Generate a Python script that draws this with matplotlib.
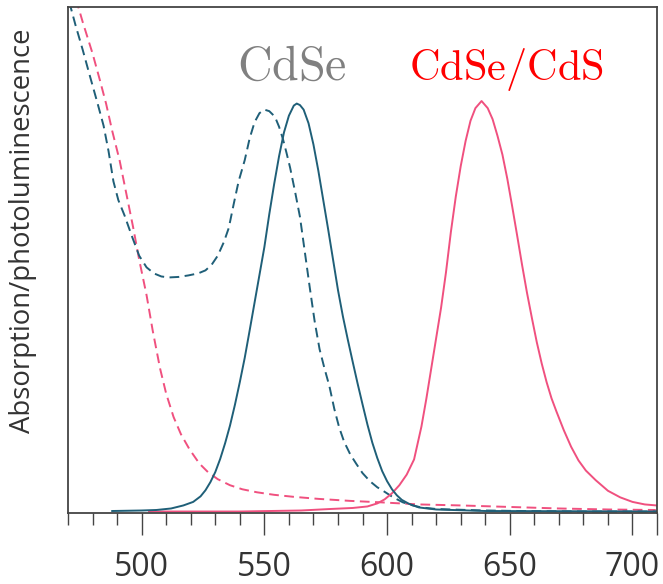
import matplotlib
matplotlib.use('Agg')
import matplotlib.pyplot as plt
from matplotlib.ticker import MultipleLocator, FixedLocator

# photoluminescence, CdSe core (solid teal)
cdse_pl_nm = [488, 500, 506, 512, 517, 521, 524, 526, 528, 530, 532, 534, 536, 538,
              540, 542, 544, 546, 548, 550, 552, 554, 556, 558, 560, 562, 563.2, 564.5,
              566, 568, 570, 572, 574, 576, 578, 580, 582, 584, 586, 588, 590, 592,
              594, 596, 598, 600, 602, 604, 606, 609, 613, 620, 640, 710]
cdse_pl = [0.003, 0.004, 0.005, 0.008, 0.014, 0.021, 0.032, 0.044, 0.060, 0.080,
           0.106, 0.137, 0.172, 0.213, 0.258, 0.306, 0.360, 0.415, 0.470, 0.525,
           0.590, 0.650, 0.705, 0.752, 0.785, 0.805, 0.809, 0.806, 0.797, 0.770,
           0.728, 0.676, 0.618, 0.560, 0.500, 0.440, 0.388, 0.342, 0.298, 0.255,
           0.214, 0.174, 0.138, 0.108, 0.082, 0.062, 0.046, 0.034, 0.025, 0.017,
           0.010, 0.006, 0.003, 0.002]

# photoluminescence, CdSe/CdS core/shell (solid pink)
shell_pl_nm = [503, 540, 565, 577, 586, 592, 596, 599, 602, 605, 608, 611, 614, 616,
               618, 620, 622, 624, 626, 628, 630, 632, 634, 636, 638.5, 641, 643, 645,
               647, 649, 651, 653, 655, 657, 659, 661, 663, 665, 667, 669, 672, 675,
               678, 681, 685, 690, 695, 700, 705, 709.8]
shell_pl = [0.002, 0.002, 0.004, 0.007, 0.009, 0.012, 0.018, 0.026, 0.038, 0.054,
            0.075, 0.105, 0.170, 0.225, 0.285, 0.345, 0.405, 0.475, 0.555, 0.625,
            0.685, 0.735, 0.775, 0.800, 0.814, 0.800, 0.778, 0.745, 0.708, 0.660,
            0.605, 0.548, 0.490, 0.435, 0.385, 0.337, 0.295, 0.258, 0.226, 0.200,
            0.163, 0.130, 0.103, 0.083, 0.064, 0.043, 0.030, 0.021, 0.016, 0.014]

# absorption, CdSe core (dashed teal)
cdse_abs_nm = [470.5, 473, 476, 479, 482, 484.5, 486.5, 488.5, 490.5, 493, 496, 499,
               502, 505, 508, 511, 515, 519, 523, 526, 528.5, 531, 533.5, 535.5, 537.5,
               539.5, 542, 544, 546, 548, 550, 552, 554.3, 556, 557.5, 559, 560.5,
               562.5, 564.5, 566.5, 568.5, 570.5, 572.5, 574.5, 576.5, 578.5, 580.5,
               582.5, 585, 587.5, 590, 593, 596, 599, 602.5, 606.5, 610.5, 614, 620,
               626, 640, 654, 680, 710]
cdse_abs = [1.010, 0.965, 0.915, 0.862, 0.810, 0.765, 0.715, 0.655, 0.618, 0.588,
            0.547, 0.508, 0.485, 0.473, 0.467, 0.465, 0.466, 0.469, 0.473, 0.479,
            0.490, 0.508, 0.535, 0.563, 0.610, 0.655, 0.697, 0.740, 0.772, 0.790,
            0.797, 0.794, 0.783, 0.763, 0.740, 0.712, 0.682, 0.635, 0.585, 0.515,
            0.445, 0.378, 0.323, 0.285, 0.250, 0.205, 0.168, 0.140, 0.115, 0.096,
            0.078, 0.062, 0.050, 0.041, 0.030, 0.020, 0.014, 0.010, 0.007, 0.006,
            0.004, 0.003, 0.002, 0.002]

# absorption, CdSe/CdS core/shell (dashed pink)
shell_abs_nm = [473, 476, 480, 483, 485.5, 488, 491, 494, 496.5, 499, 502, 504.5,
                507.5, 510, 513, 516, 519.5, 523.5, 527, 531, 536, 541, 547, 554, 562,
                572, 585, 598, 613, 630, 650, 670, 690, 709.5]
shell_abs = [1.020, 0.970, 0.908, 0.855, 0.809, 0.755, 0.697, 0.625, 0.565, 0.500,
             0.430, 0.360, 0.285, 0.235, 0.189, 0.155, 0.125, 0.097, 0.080, 0.066,
             0.054, 0.046, 0.040, 0.035, 0.031, 0.027, 0.023, 0.020, 0.016, 0.014,
             0.011, 0.008, 0.006, 0.005]

teal = '#1f5f78'
pink = '#f0507f'

fig = plt.figure(figsize=(6.63, 5.84), dpi=100)
ax = fig.add_axes([0.1026, 0.1224, 0.8884, 0.8656])

dash = (5, 2.8)
ax.plot(shell_abs_nm, shell_abs, color=pink, lw=1.4, dashes=dash)
ax.plot(cdse_abs_nm, cdse_abs, color=teal, lw=1.4, dashes=dash)
ax.plot(shell_pl_nm, shell_pl, color=pink, lw=1.4)
ax.plot(cdse_pl_nm, cdse_pl, color=teal, lw=1.4)

ax.set_xlim(470, 710)
ax.set_ylim(0, 1)

for s in ax.spines.values():
    s.set_color('#444444')
    s.set_linewidth(1.3)

ax.xaxis.set_major_locator(FixedLocator([500, 550, 600, 650, 700, 710]))
ax.xaxis.set_minor_locator(MultipleLocator(10))
ax.set_xticklabels(['500', '550', '600', '650', '700', ''])
ax.tick_params(axis='x', which='major', length=16, width=1.0, color='#444444',
               pad=12, labelsize=23, labelcolor='#333333')
ax.tick_params(axis='x', which='minor', length=8.6, width=1.0, color='#444444')
for lbl in ax.get_xticklabels():
    lbl.set_family('Open Sans')
ax.set_yticks([])

ax.set_ylabel('Absorption/photoluminescence', family='Open Sans', fontsize=19.8,
              color='#333333')
ax.yaxis.set_label_coords(-0.053, 0.557)

ax.text(0.3795, 0.856, r'$\mathrm{CdSe}$', transform=ax.transAxes, ha='center',
        va='baseline', fontsize=34.5, color='#808080', math_fontfamily='cm')
ax.text(0.7445, 0.856, r'$\mathrm{CdSe/CdS}$', transform=ax.transAxes, ha='center',
        va='baseline', fontsize=30.5, color='#ff0000', math_fontfamily='cm')

fig.savefig('out.png', dpi=100)
